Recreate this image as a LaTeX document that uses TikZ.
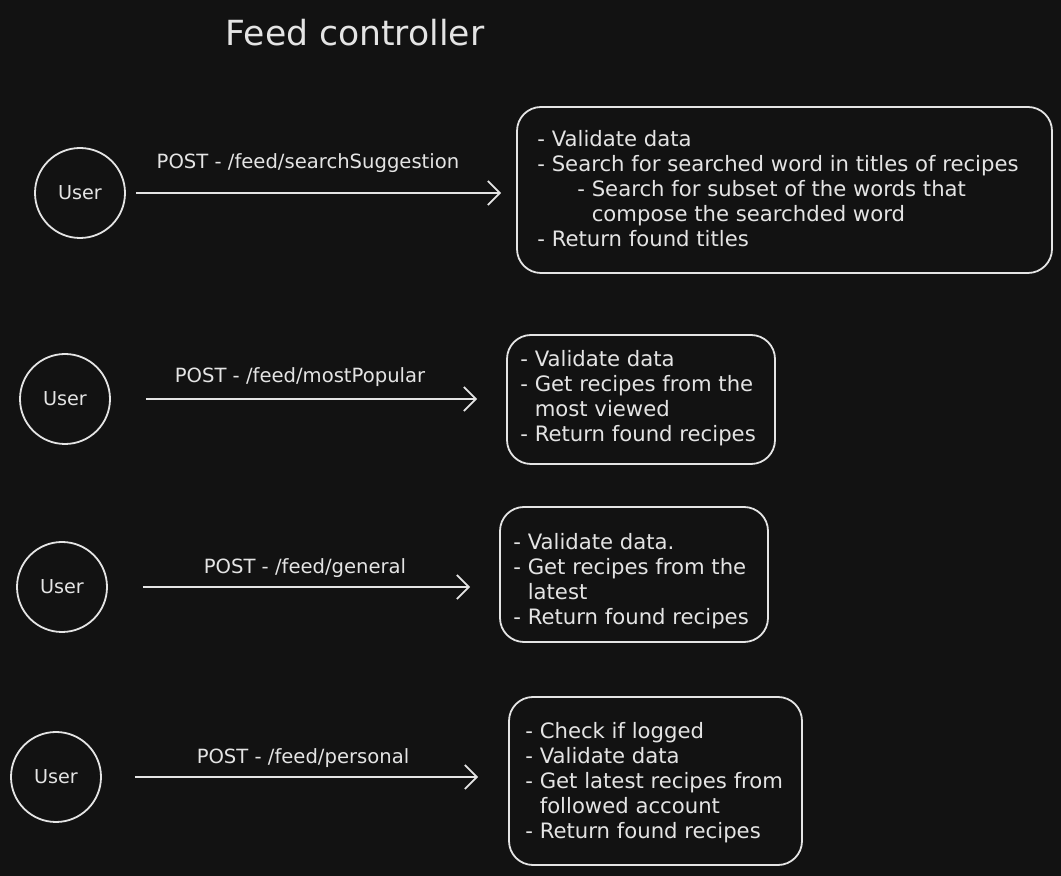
\documentclass[tikz,border=0pt]{standalone}
\usepackage{fontspec}
\setmainfont{DejaVu Sans}
\usetikzlibrary{arrows.meta, positioning}
\definecolor{canvas}{HTML}{121212}
\definecolor{ink}{HTML}{E4E4E4}

\begin{document}
\begin{tikzpicture}[x=0.5pt, y=-0.5pt]
\tikzstyle{user} = [circle, draw=ink, line width=0.9pt, minimum size=45pt, inner sep=0pt, text=ink, font=\fontsize{9.6}{12}\selectfont]
\tikzstyle{panel} = [rectangle, draw=ink, line width=0.9pt, rounded corners=12pt, inner sep=0pt]
\tikzstyle{steps} = [anchor=north west, align=left, inner sep=0pt, text=ink, font=\fontsize{10.6}{12.5}\selectfont]
\tikzstyle{route} = [inner sep=0pt, text=ink, font=\fontsize{9.8}{12}\selectfont]
\tikzstyle{line} = [draw=ink, line width=0.9pt, -{Straight Barb[length=6pt, width=12pt, line width=0.9pt]}]

\fill [canvas] (0,0) rectangle (1061,876);
\useasboundingbox (0,0) rectangle (1061,876);

\node [text=ink, font=\fontsize{17.3}{20}\selectfont] (title) at (355,33) {Feed controller};

% searchSuggestion
\node [user] (user1) at (80,193) {User};
\node [panel, minimum width=267.5pt, minimum height=83pt] (box1) at (784.5,190) {};
\node [steps] (text1) at (537,130) {- Validate data\\
- Search for searched word in titles of recipes\\
\hspace*{20pt}- Search for subset of the words that\\
\hspace*{20pt}\phantom{- }compose the searchded word\\
- Return found titles};
\node [route] (label1) at (308,163) {POST - /feed/searchSuggestion};
\draw [line, shorten <=5pt, shorten >=7.5pt] (user1) -- (user1 -| box1.west);

% mostPopular
\node [user] (user2) at (65,399) {User};
\node [panel, minimum width=134pt, minimum height=64.5pt] (box2) at (641,399.5) {};
\node [steps] (text2) at (520,350) {- Validate data\\
- Get recipes from the\\
\phantom{- }most viewed\\
- Return found recipes};
\node [route] (label2) at (300,377) {POST - /feed/mostPopular};
\draw [line, shorten <=17.5pt, shorten >=14.5pt] (user2) -- (user2 -| box2.west);

% general
\node [user] (user3) at (62,587) {User};
\node [panel, minimum width=134pt, minimum height=67.5pt] (box3) at (634,574.5) {};
\node [steps] (text3) at (513,533) {- Validate data.\\
- Get recipes from the\\
\phantom{- }latest\\
- Return found recipes};
\node [route] (label3) at (305,568) {POST - /feed/general};
\draw [line, shorten <=17.5pt, shorten >=14.5pt] (user3) -- (user3 -| box3.west);

% personal
\node [user] (user4) at (56,777) {User};
\node [panel, minimum width=146.5pt, minimum height=84pt] (box4) at (655.5,781) {};
\node [steps] (text4) at (525,722) {- Check if logged\\
- Validate data\\
- Get latest recipes from\\
\phantom{- }followed account\\
- Return found recipes};
\node [route] (label4) at (303,758) {POST - /feed/personal};
\draw [line, shorten <=16.5pt, shorten >=15pt] (user4) -- (user4 -| box4.west);

\end{tikzpicture}
\end{document}
